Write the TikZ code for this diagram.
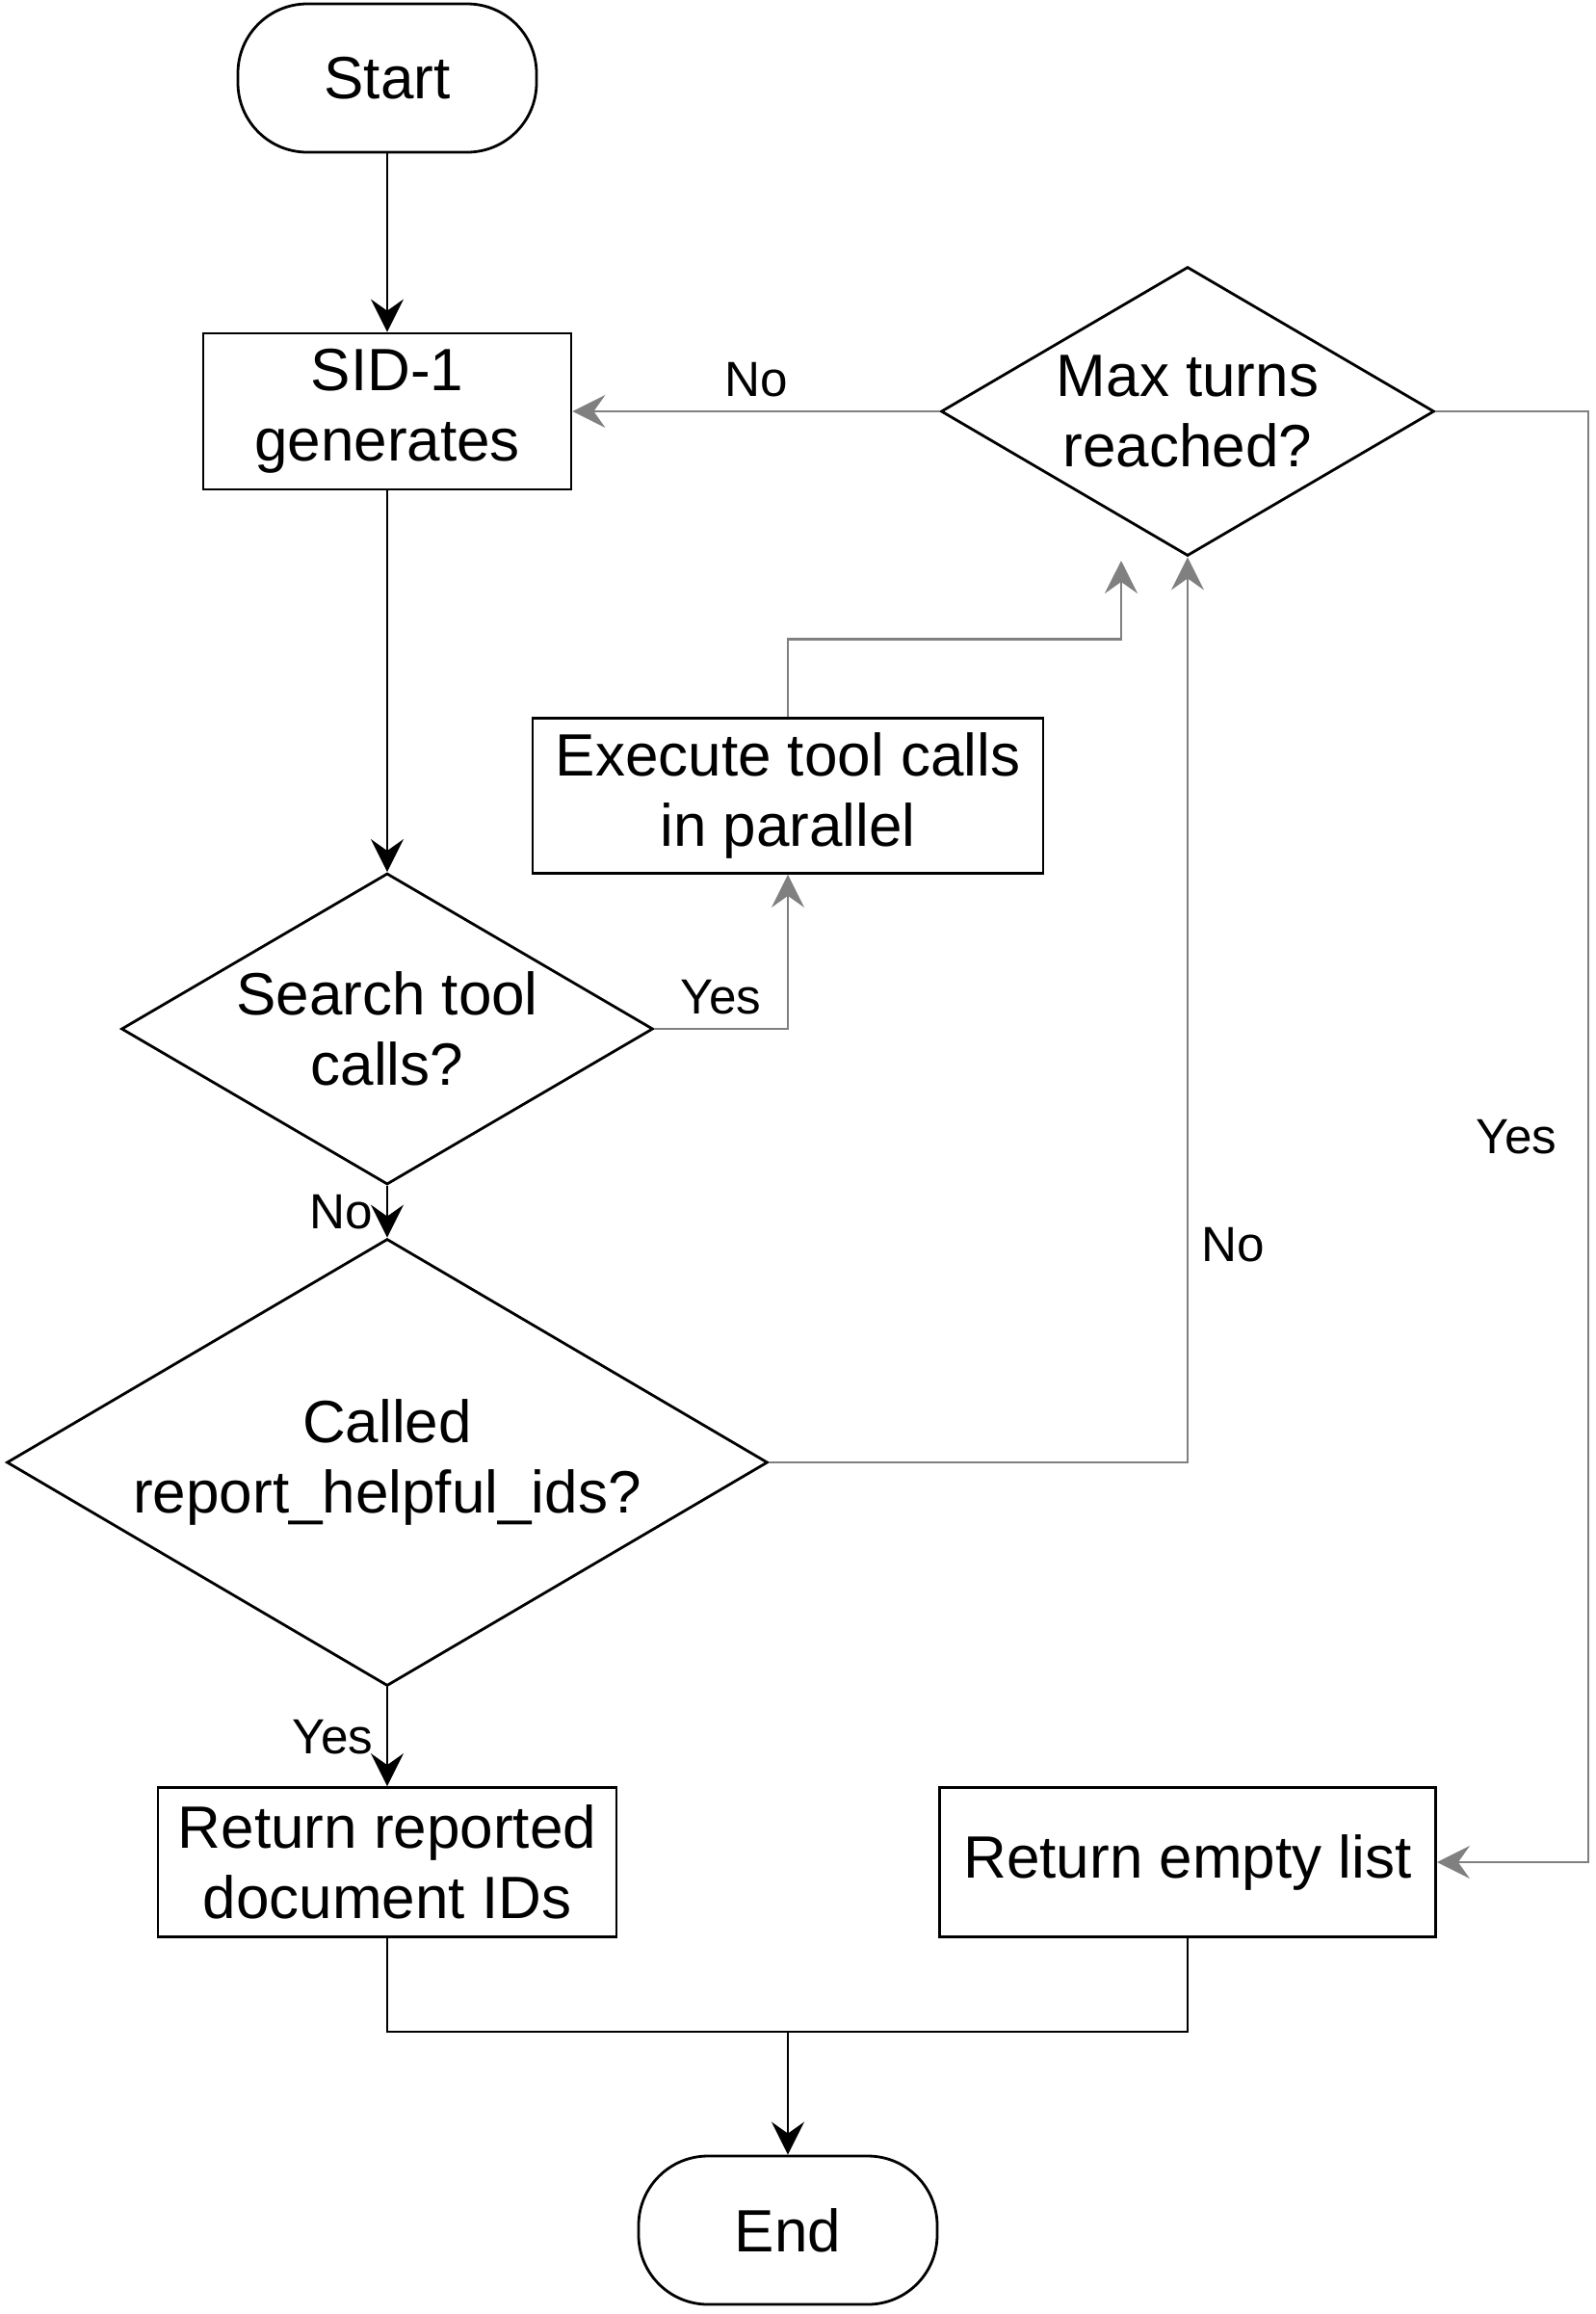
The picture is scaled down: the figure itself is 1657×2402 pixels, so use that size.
\documentclass[tikz,border=0pt]{standalone}
\usepackage{fontspec}
\setmainfont{Liberation Sans}
\usetikzlibrary{shapes.geometric, arrows.meta, positioning}
\tikzstyle{startstop} = [
    rectangle,
    rounded corners=18pt,
    minimum width=77.5pt,
    minimum height=38.5pt,
    draw=black,
    line width=0.7pt
]
\tikzstyle{process} = [
    rectangle,
    align=center,
    draw=black,
    line width=0.7pt
]
\tikzstyle{decision} = [
    diamond,
    shape aspect=1.7,
    inner sep=0pt,
    align=center,
    draw=black,
    line width=0.7pt
]
\tikzstyle{line} = [line width=0.7pt]
\tikzstyle{arrow} = [line, ->, >={Stealth[length=8.5pt,width=8.5pt,inset=3pt]}]
\tikzstyle{garrow} = [arrow, gray]
\tikzstyle{lbl} = [font=\fontsize{12.8}{15}\selectfont, text=black]

\begin{document}
\begin{tikzpicture}[x=0.25pt, y=-0.25pt, font=\fontsize{15.5}{18.3}\selectfont]
\useasboundingbox (0,0) rectangle (1657,2402);

\node (start) [startstop] at (402,81) {Start};

\node (sid) [process, node distance=86.5pt, below of=start,
    minimum width=95.5pt, minimum height=40.5pt]
{SID-1\\generates};

\node (search) [decision, node distance=160.25pt, below of=sid,
    minimum width=138pt, minimum height=80.75pt]
{Search tool\\calls?};

\node (called) [decision, node distance=112.5pt, below of=search,
    minimum width=197.5pt, minimum height=116pt]
{Called\\report\_helpful\_ids?};

\node (ret) [process, node distance=103.75pt, below of=called,
    minimum width=119pt, minimum height=38.75pt]
{Return reported\\document IDs};

\node (maxturns) [decision, node distance=207.75pt, right of=sid,
    minimum width=128pt, minimum height=75pt]
{Max turns\\reached?};

\node (exec) [process, minimum width=132.5pt, minimum height=40.25pt]
    at (818,826)
{Execute tool calls\\in parallel};

\node (empty) [process, node distance=207.75pt, right of=ret,
    minimum width=128.75pt, minimum height=38.75pt]
{Return empty list};

\node (end) [startstop] at (818,2315) {End};

\coordinate (rturn) at (1649,427);
\coordinate (maxin) at (1164,582);
\coordinate (join) at (818,2109);

\draw [arrow] (start) -- (sid);
\draw [arrow] (sid) -- (search);
\draw [arrow] (search) -- node (nosearch) [lbl, left] {No} (called);
\draw [arrow] (called) -- node (yesreport) [lbl, left] {Yes} (ret);
\draw [garrow] (search.east) -| node (yessearch) [lbl, pos=0.25, above] {Yes} (exec.south);
\draw [garrow] (exec.north) -- ++(0,-81) -| (maxin);
\draw [garrow] (called.east) -| node (noreport) [lbl, pos=0.62, right] {No} (maxturns.south);
\draw [garrow] (maxturns.west) -- node (nolimit) [lbl, above] {No} (sid.east);
\draw [garrow] (maxturns.east) -- (rturn) |- node (yeslimit) [lbl, pos=0.25, left=4.5pt] {Yes} (empty.east);
\draw [line] (ret.south) |- (join);
\draw [line] (empty.south) |- (join);
\draw [arrow] (join) -- (end);

\end{tikzpicture}
\end{document}
